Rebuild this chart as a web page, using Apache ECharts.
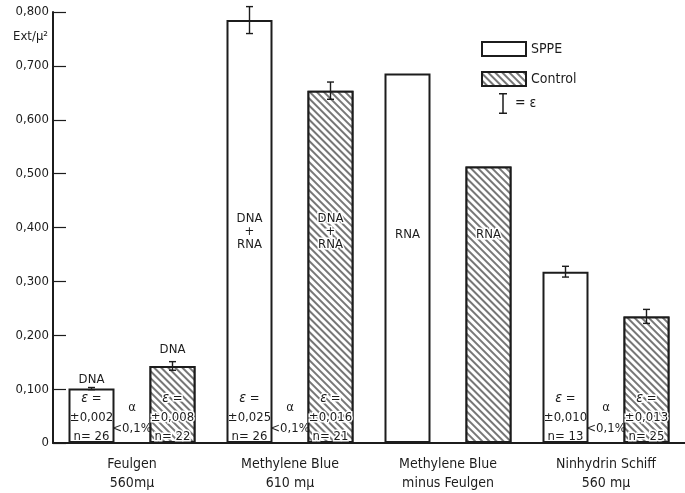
<!DOCTYPE html>
<html>
<head>
<meta charset="utf-8">
<script src="https://cdn.jsdelivr.net/npm/echarts@6/dist/echarts.min.js"></script>
<style>html,body{margin:0;padding:0;background:#fff;}#c{width:685px;height:493px;}</style>
</head>
<body>
<div id="c"></div>
<script>
// ---- data ----
const categories = ['Feulgen\n560mμ', 'Methylene Blue\n610 mμ', 'Methylene Blue\nminus Feulgen', 'Ninhydrin Schiff\n560 mμ'];
const sppeValues = [0.101, 0.785, 0.686, 0.318];
const controlValues = [0.143, 0.654, 0.513, 0.235];
const sppeErr = [0.002, 0.025, null, 0.010];
const controlErr = [0.008, 0.016, null, 0.013];
const sppeEpsText = ['±0,002', '±0,025', null, '±0,010'];
const sppeN = ['26', '26', null, '13'];
const controlEpsText = ['±0,008', '±0,016', null, '±0,013'];
const controlN = ['22', '21', null, '25'];
const alphaCats = [0, 1, 3];
const alphaText = 'α\n<0,1%';
// annotations: [category, side(-1 SPPE / 1 Control), value, text]
const annotations = [
  [0, -1, 0.1185, 'DNA'],
  [0, 1, 0.174, 'DNA'],
  [1, -1, 0.393, 'DNA\n+\nRNA'],
  [1, 1, 0.393, 'DNA\n+\nRNA'],
  [2, -1, 0.387, 'RNA'],
  [2, 1, 0.387, 'RNA']
];
const yTicks = [0, 0.1, 0.2, 0.3, 0.4, 0.5, 0.6, 0.7, 0.8];

// ---- style ----
const FONT = "'DejaVu Sans Condensed', 'Liberation Sans Narrow', sans-serif";
const INK = '#1c1c1c';
const BAR_W = 46, GAP_PX = 35;
const OFFSET = (BAR_W + GAP_PX) / 2;

const hatch = {
  symbol: 'rect', symbolSize: 1,
  dashArrayX: [1, 0], dashArrayY: [1.1, 3],
  rotation: Math.PI / 4, color: '#777', backgroundColor: '#fff'
};

function statLabel(eps, n) {
  return function (p) {
    const i = p.dataIndex;
    if (!eps[i]) return '';
    return '{e|ε} =\n' + eps[i] + '\nn= ' + n[i];
  };
}

const errData = [];
sppeValues.forEach((v, i) => { if (sppeErr[i] != null) errData.push([i, v, sppeErr[i], -1]); });
controlValues.forEach((v, i) => { if (controlErr[i] != null) errData.push([i, v, controlErr[i], 1]); });

const annoData = annotations.map(a => [a[0], a[2], a[1]]);
const alphaData = alphaCats.map(c => [c, 0.046, 0]);

const chart = echarts.init(document.getElementById('c'), null, { renderer: 'canvas' });
chart.setOption({
  backgroundColor: '#fff',
  animation: false,
  textStyle: { fontFamily: FONT, color: INK },
  grid: { left: 53, top: 12, width: 648, height: 432 },
  legend: [
    {
      data: [{ name: 'SPPE', icon: 'rect' }, { name: 'Control', icon: 'rect' }],
      orient: 'vertical', left: 476, top: 36, itemWidth: 44, itemHeight: 14, itemGap: 14,
      textStyle: { fontFamily: FONT, fontSize: 14, color: INK },
      selectedMode: false
    },
    {
      data: [{ name: '= ε', icon: 'path://M0,0H8V1.5H4.75V19.5H8V21H0V19.5H3.25V1.5H0Z' }],
      left: 494, top: 88, itemWidth: 8, itemHeight: 21,
      textStyle: { fontFamily: FONT, fontSize: 14, color: INK, padding: [0, 0, 0, 3] },
      selectedMode: false
    }
  ],
  xAxis: {
    type: 'category', data: categories,
    axisLine: { lineStyle: { color: INK, width: 2 } },
    axisTick: { show: false },
    axisLabel: { color: INK, fontSize: 14, fontFamily: FONT, margin: 12, lineHeight: 19 }
  },
  yAxis: {
    type: 'value', min: 0, max: 0.8, interval: 0.1,
    name: 'Ext/μ²', nameLocation: 'end', nameGap: -25,
    nameTextStyle: { align: 'right', verticalAlign: 'middle', fontSize: 13, color: INK, fontFamily: FONT, padding: [0, 5, 0, 0] },
    axisLine: { show: true, lineStyle: { color: INK, width: 2 } },
    axisTick: { show: true, inside: true, length: 13, lineStyle: { color: INK, width: 1.2 } },
    splitLine: { show: false },
    axisLabel: {
      color: INK, fontSize: 13, fontFamily: FONT, margin: 4,
      formatter: v => (yTicks.indexOf(+v.toFixed(1)) < 0 ? '' : (v === 0 ? '0' : v.toFixed(3).replace('.', ',')))
    }
  },
  series: [
    {
      name: 'SPPE', type: 'bar', data: sppeValues, barWidth: BAR_W, barGap: (GAP_PX / BAR_W * 100).toFixed(1) + '%',
      itemStyle: { color: '#fff', borderColor: INK, borderWidth: 2 },
      label: {
        show: true, position: 'insideBottom', distance: -3, formatter: statLabel(sppeEpsText, sppeN),
        fontSize: 13, lineHeight: 19, color: INK, fontFamily: FONT, align: 'center',
        rich: { e: { fontSize: 14, fontStyle: 'italic', fontFamily: FONT, color: INK, lineHeight: 19 } }
      },
      z: 2
    },
    {
      name: 'Control', type: 'bar', data: controlValues, barWidth: BAR_W, barGap: (GAP_PX / BAR_W * 100).toFixed(1) + '%',
      itemStyle: { color: '#fff', borderColor: INK, borderWidth: 2, decal: hatch },
      label: {
        show: true, position: 'insideBottom', distance: -3, formatter: statLabel(controlEpsText, controlN),
        fontSize: 13, lineHeight: 19, color: INK, fontFamily: FONT, align: 'center',
        textBorderColor: '#fff', textBorderWidth: 3,
        rich: { e: { fontSize: 14, fontStyle: 'italic', fontFamily: FONT, color: INK, lineHeight: 19, textBorderColor: '#fff', textBorderWidth: 3 } }
      },
      z: 2
    },
    {
      name: '= ε', type: 'custom', data: errData, clip: false, z: 5,
      itemStyle: { color: INK },
      renderItem: function (params, api) {
        const cat = api.value(0), v = api.value(1), e = api.value(2), side = api.value(3);
        const x = api.coord([cat, v])[0] + side * OFFSET;
        const y1 = api.coord([cat, v + e])[1];
        const y2 = api.coord([cat, v - e])[1];
        const ls = { stroke: INK, lineWidth: 1.4 };
        return {
          type: 'group', children: [
            { type: 'line', shape: { x1: x, y1: y1, x2: x, y2: y2 }, style: ls },
            { type: 'line', shape: { x1: x - 3.5, y1: y1, x2: x + 3.5, y2: y1 }, style: ls },
            { type: 'line', shape: { x1: x - 3.5, y1: y2, x2: x + 3.5, y2: y2 }, style: ls }
          ]
        };
      }
    },
    {
      type: 'custom', data: annoData, clip: false, z: 6, silent: true,
      renderItem: function (params, api) {
        const cat = api.value(0), v = api.value(1), side = api.value(2);
        const p = api.coord([cat, v]);
        const hatched = side > 0;
        return {
          type: 'text', x: p[0] + side * OFFSET, y: p[1],
          style: {
            text: annotations[params.dataIndex][3], align: 'center', verticalAlign: 'middle',
            font: '13px ' + FONT, fill: INK, lineHeight: 13,
            stroke: hatched ? '#fff' : null, lineWidth: hatched ? 3 : 0
          }
        };
      }
    },
    {
      type: 'custom', data: alphaData, clip: false, z: 6, silent: true,
      renderItem: function (params, api) {
        const p = api.coord([api.value(0), api.value(1)]);
        return {
          type: 'text', x: p[0], y: p[1],
          style: {
            text: alphaText, align: 'center', verticalAlign: 'middle',
            font: '13px ' + FONT, fill: INK, lineHeight: 21
          }
        };
      }
    }
  ]
});
</script>
</body>
</html>
